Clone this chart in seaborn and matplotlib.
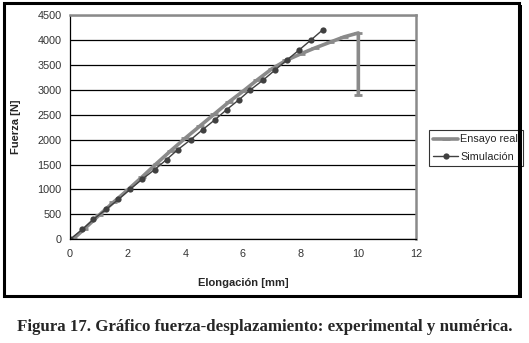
import numpy as np
import pandas as pd
import matplotlib
matplotlib.use("Agg")
import matplotlib.pyplot as plt
from matplotlib.patches import Rectangle
import seaborn as sns

# datos
ensayo_x = [0.1, 0.5, 1.0, 1.5, 2.0, 2.5, 3.0, 3.5, 4.0, 4.5, 5.0, 5.5, 6.0, 6.5, 7.0, 7.5, 8.0, 8.5, 9.0, 9.5, 10.0, 10.0]
ensayo_y = [0, 210, 480, 740, 990, 1250, 1520, 1780, 2030, 2270, 2510, 2750, 2970, 3200, 3420, 3590, 3720, 3840, 3950, 4060, 4140, 2900]

sim_x = [0, 0.43, 0.81, 1.25, 1.68, 2.08, 2.49, 2.94, 3.35, 3.74, 4.19, 4.6, 5.03, 5.43, 5.86, 6.26, 6.71, 7.12, 7.53, 7.95, 8.36, 8.76]
sim_y = [0, 200, 400, 600, 800, 1000, 1200, 1400, 1600, 1800, 2000, 2200, 2400, 2600, 2800, 3000, 3200, 3400, 3600, 3800, 4000, 4200]

xticks = [0, 2, 4, 6, 8, 10, 12]
yticks = list(range(0, 4501, 500))

sns.set_style("white")
plt.rcParams['font.family'] = ['Liberation Sans', 'DejaVu Sans']

W, H = 529, 343
fig = plt.figure(figsize=(W / 100, H / 100), dpi=100)
ax = fig.add_axes([70 / W, 1 - 239.3 / H, 346 / W, 224.3 / H])

df_real = pd.DataFrame({"x": ensayo_x, "y": ensayo_y})
df_sim = pd.DataFrame({"x": sim_x, "y": sim_y})

sns.lineplot(data=df_real, x="x", y="y", ax=ax, sort=False, estimator=None,
             color="#8a8a8a", linewidth=2.6, marker="_", markersize=6,
             markeredgewidth=2, markeredgecolor="#8a8a8a", label="Ensayo real")
sns.lineplot(data=df_sim, x="x", y="y", ax=ax, sort=False, estimator=None,
             color="#404040", linewidth=1.0, marker="o", markersize=4.5,
             markeredgewidth=0, label="Simulación")

ax.set_xlim(0, 12)
ax.set_ylim(0, 4500)
ax.set_xticks(xticks)
ax.set_yticks(yticks)
ax.yaxis.grid(True, color="black", linewidth=0.9)
ax.set_axisbelow(True)
ax.tick_params(axis="both", direction="out", length=3, width=0.8, labelsize=7.8,
               colors="black", pad=4)
ax.tick_params(axis="y", pad=3)
ax.tick_params(axis="both", labelcolor="#333333")
for side in ["left", "bottom"]:
    ax.spines[side].set_color("black")
    ax.spines[side].set_linewidth(0.9)
for side in ["top", "right"]:
    ax.spines[side].set_color("#8a8a8a")
    ax.spines[side].set_linewidth(1.8)

ax.set_xlabel("Elongación [mm]", fontsize=8, fontweight="bold", labelpad=14)
ax.set_ylabel("Fuerza [N]", fontsize=8, fontweight="bold", labelpad=12)

leg = ax.legend(loc="upper left", bbox_to_anchor=(429 / W, 1 - 130 / H),
                bbox_transform=fig.transFigure, fontsize=7.8, frameon=True,
                fancybox=False, borderpad=0.4, handlelength=2.3,
                handletextpad=0.2, labelspacing=0.7, borderaxespad=0)
leg.get_frame().set_edgecolor("black")
leg.get_frame().set_linewidth(0.8)

# marco del grafico
fig.patches.append(Rectangle((4 / W, 1 - 296 / H), 515 / W, 293 / H,
                             transform=fig.transFigure, fill=False,
                             edgecolor="black", linewidth=2.2, zorder=10))
fig.patches.append(Rectangle((519 / W, 1 - 298 / H), 3 / W, 293 / H,
                             transform=fig.transFigure, facecolor="black",
                             edgecolor="none", zorder=10))
fig.patches.append(Rectangle((7 / W, 1 - 298 / H), 515 / W, 2.5 / H,
                             transform=fig.transFigure, facecolor="black",
                             edgecolor="none", zorder=10))

fig.text(0.5, 1 - 327 / H,
         "Figura 17. Gráfico fuerza-desplazamiento: experimental y numérica.",
         ha="center", va="center", fontsize=12.2, fontweight="bold",
         family=["Liberation Serif", "DejaVu Serif"])

fig.savefig("out.png", dpi=100)
